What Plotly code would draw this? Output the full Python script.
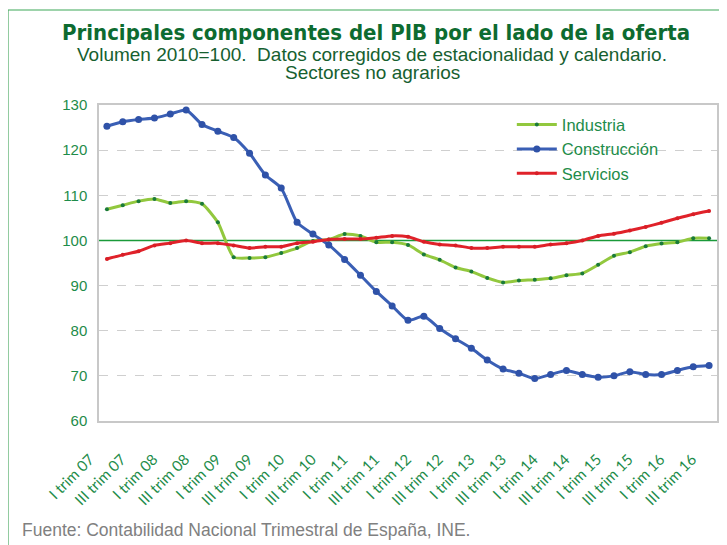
import plotly.graph_objects as go

years = ["07", "08", "09", "10", "11", "12", "13", "14", "15", "16"]
quarters = ["I", "II", "III", "IV"]
categories = [f"{q} trim {y}" for y in years for q in quarters][:39]
tick_labels = [c for i, c in enumerate(categories) if i % 2 == 0]

industria = [106.9, 107.8, 108.7, 109.2, 108.3, 108.7, 108.1, 104.0, 96.3, 96.1,
             96.3, 97.2, 98.3, 99.9, 100.2, 101.4, 101.0, 99.6, 99.6, 99.0,
             96.9, 95.7, 94.0, 93.1, 91.7, 90.7, 91.1, 91.3, 91.6, 92.3,
             92.7, 94.6, 96.6, 97.4, 98.7, 99.3, 99.6, 100.5, 100.5]
construccion = [125.3, 126.3, 126.8, 127.1, 128.0, 128.9, 125.7, 124.2, 122.8, 119.3,
                114.5, 111.6, 104.0, 101.4, 99.0, 95.8, 92.3, 88.7, 85.5, 82.3,
                83.2, 80.5, 78.2, 76.1, 73.5, 71.5, 70.6, 69.4, 70.3, 71.2,
                70.3, 69.7, 70.0, 70.9, 70.3, 70.3, 71.2, 72.0, 72.3]
servicios = [95.9, 96.8, 97.6, 98.9, 99.4, 100.0, 99.4, 99.4, 98.9, 98.3,
             98.6, 98.6, 99.4, 99.7, 100.2, 100.3, 100.3, 100.6, 101.0, 100.8,
             99.7, 99.1, 98.9, 98.3, 98.3, 98.6, 98.6, 98.6, 99.1, 99.4,
             100.0, 101.0, 101.5, 102.2, 103.0, 103.9, 104.9, 105.8, 106.5]

y_ticks = [60, 70, 80, 90, 100, 110, 120, 130]
y_grid = [70, 80, 90, 110, 120]
base_level = 100

series = [
    ("Industria", industria, "#92c83e", "#1a7a3a", 4),
    ("Construcción", construccion, "#3a5fb5", "#2f52a8", 7),
    ("Servicios", servicios, "#e0222a", "#d81e26", 4),
]

fig = go.Figure()
for name, vals, lc, mc, ms in series:
    fig.add_trace(go.Scatter(
        x=categories, y=vals, name=name, mode="lines+markers",
        line=dict(color=lc, width=3, shape="spline", smoothing=0.6),
        marker=dict(color=mc, size=ms),
        hoverinfo="skip",
    ))

green_txt = "#1e8c4a"
# page body has an 8px default margin; figure is sized to fit the window
fig.update_layout(
    width=719, height=537,
    margin=dict(l=91, r=10, t=97, b=124, autoexpand=False),
    paper_bgcolor="white", plot_bgcolor="white",
    showlegend=True,
    legend=dict(x=0.668, y=0.993, xanchor="left", yanchor="top",
                font=dict(family="Liberation Sans, Arial", size=16.5, color=green_txt),
                bgcolor="rgba(0,0,0,0)", tracegroupgap=0, itemwidth=40),
    xaxis=dict(type="category", categoryorder="array", categoryarray=categories,
               range=[-0.5, 38.5], tickmode="array", tickvals=tick_labels,
               ticktext=tick_labels, tickangle=-45, showgrid=False, ticks="",
               tickfont=dict(family="Lato, Liberation Sans", size=15, color=green_txt),
               showline=True, linecolor="#c8c8c8", linewidth=1.5, mirror=True,
               zeroline=False, automargin=False, ticklabelstandoff=22,
               ticklabelshift=-17),
    yaxis=dict(range=[60, 130], tickvals=y_ticks,
               showgrid=False,
               minor=dict(tickmode="array", tickvals=y_grid, showgrid=True,
                          gridcolor="#cfcfcf", griddash="dash", gridwidth=1, ticks=""),
               tickfont=dict(family="Liberation Sans, Arial", size=15, color=green_txt),
               showline=True, linecolor="#c8c8c8", linewidth=1.5, mirror=True,
               zeroline=False, ticklabelstandoff=7, automargin=False),
)

# horizontal reference line at 100
fig.add_hline(y=base_level, line=dict(color="#1a9a3a", width=1.5), layer="below")

# outer frame (top and left)
fx = (8 - 99) / 617
fy = (421 - 10) / 316
fig.add_shape(type="line", xref="paper", yref="paper", x0=fx, x1=1.05,
              y0=fy, y1=fy, line=dict(color="#7cc48f", width=1.5))
fig.add_shape(type="line", xref="paper", yref="paper", x0=fx, x1=fx,
              y0=fy, y1=-0.45, line=dict(color="#4aa862", width=1.5))

fig.add_annotation(text="<b>Principales componentes del PIB por el lado de la oferta</b>",
                   xref="paper", yref="paper", x=(376 - 99) / 617, y=(421 - 32) / 316,
                   xanchor="center", yanchor="middle", showarrow=False,
                   font=dict(family="DejaVu Sans Condensed", size=22, color="#0d6b30"))
fig.add_annotation(text="Volumen 2010=100.  Datos corregidos de estacionalidad y calendario.",
                   xref="paper", yref="paper", x=(372 - 99) / 617, y=(421 - 54) / 316,
                   xanchor="center", yanchor="middle", showarrow=False,
                   font=dict(family="Liberation Sans, Arial", size=19, color="#16602f"))
fig.add_annotation(text="Sectores no agrarios",
                   xref="paper", yref="paper", x=(372 - 99) / 617, y=(421 - 73) / 316,
                   xanchor="center", yanchor="middle", showarrow=False,
                   font=dict(family="Liberation Sans, Arial", size=19, color="#16602f"))
fig.add_annotation(text="Fuente: Contabilidad Nacional Trimestral de España, INE.",
                   xref="paper", yref="paper", x=(20 - 99) / 617, y=(421 - 530) / 316,
                   xanchor="left", yanchor="middle", showarrow=False,
                   font=dict(family="Liberation Sans, Arial", size=17.5, color="#808080"))

fig.write_html("out.html")
